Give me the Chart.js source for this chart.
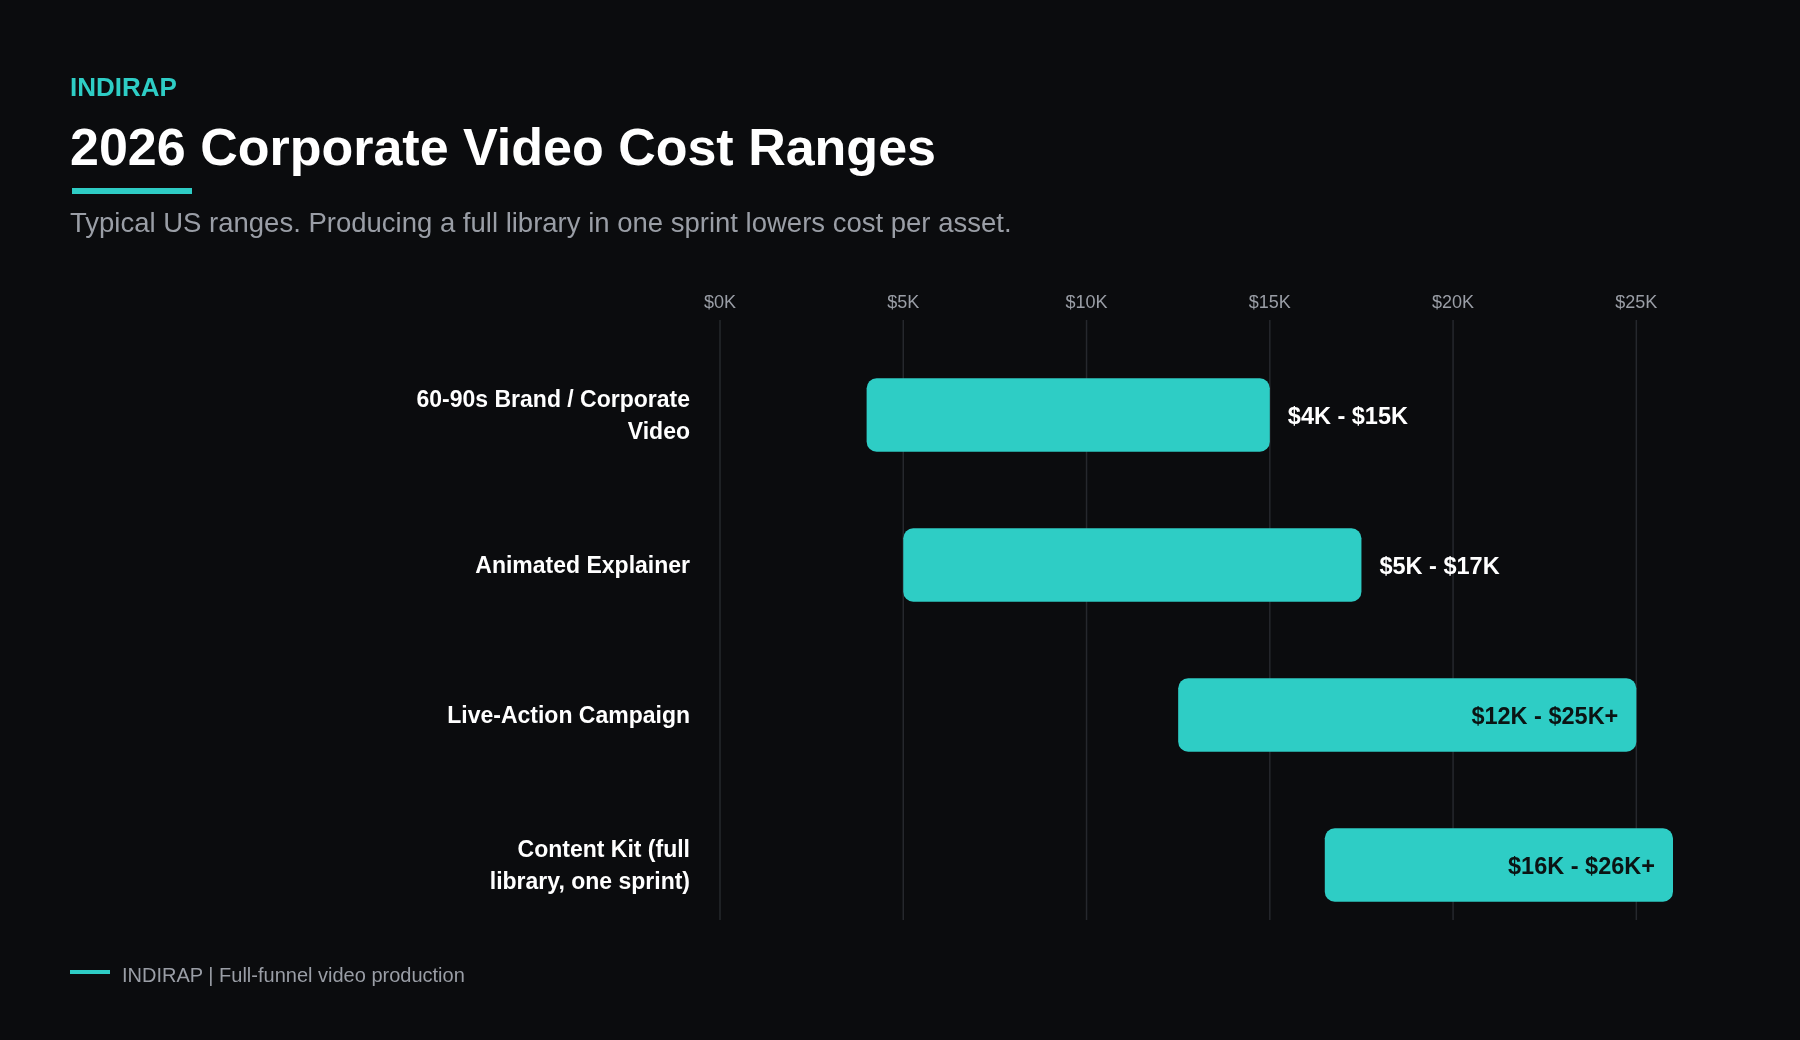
<!DOCTYPE html>
<html>
<head>
<meta charset="utf-8">
<script src="https://cdn.jsdelivr.net/npm/chart.js@4.4.1/dist/chart.umd.min.js"></script>
<style>
  html, body { margin: 0; padding: 0; background: #0b0c0e; }
  body { width: 1800px; height: 1040px; position: relative; overflow: hidden; font-family: "Liberation Sans", Arial, sans-serif; }
  #chart { position: absolute; left: 0; top: 0; }
  .t { position: absolute; white-space: nowrap; line-height: 1; }
  #brand { left: 70px; top: 74px; font-size: 26px; font-weight: bold; color: #2ecdc5; }
  #title { left: 70px; top: 121px; font-size: 52px; font-weight: bold; color: #ffffff; }
  #rule { position: absolute; left: 72px; top: 188px; width: 120px; height: 6px; background: #2ecdc5; }
  #sub { left: 70px; top: 209px; font-size: 27.5px; color: #9a9ea6; }
  #fline { position: absolute; left: 70px; top: 970px; width: 40px; height: 4px; background: #2ecdc5; }
  #foot { left: 122px; top: 965px; font-size: 20px; color: #9a9ea6; }
</style>
</head>
<body>
<canvas id="chart" width="1800" height="1040"></canvas>
<div class="t" id="brand">INDIRAP</div>
<div class="t" id="title">2026 Corporate Video Cost Ranges</div>
<div id="rule"></div>
<div class="t" id="sub">Typical US ranges. Producing a full library in one sprint lowers cost per asset.</div>
<div id="fline"></div>
<div class="t" id="foot">INDIRAP | Full-funnel video production</div>
<script>
// ---- data ----
const categories = [
  ["60-90s Brand / Corporate", "Video"],
  "Animated Explainer",
  "Live-Action Campaign",
  ["Content Kit (full", "library, one sprint)"]
];
const lowValues = [4, 5, 12.5, 16.5];      // $K
const highValues = [15, 17.5, 25, 26];     // $K
const rangeLabels = ["$4K - $15K", "$5K - $17K", "$12K - $25K+", "$16K - $26K+"];
const xTickValues = [0, 5, 10, 15, 20, 25];
const xMin = 0, xMax = 26;

// ---- styles ----
const TEAL = "#2ecdc5";
const GRID = "#26282d";
const MUTED = "#9a9ea6";
const FONT = "'Liberation Sans', Arial, sans-serif";

const gridPlugin = {
  id: "gridLines",
  beforeDatasetsDraw(chart) {
    const { ctx, chartArea, scales } = chart;
    const x = scales.x;
    ctx.save();
    ctx.strokeStyle = GRID;
    ctx.lineWidth = 1.5;
    x.ticks.forEach(t => {
      const px = x.getPixelForValue(t.value);
      ctx.beginPath();
      ctx.moveTo(px, chartArea.top - 20);
      ctx.lineTo(px, chartArea.bottom - 20);
      ctx.stroke();
    });
    ctx.restore();
  }
};

const labelPlugin = {
  id: "rangeLabels",
  afterDatasetsDraw(chart) {
    const { ctx } = chart;
    const meta = chart.getDatasetMeta(0);
    ctx.save();
    ctx.font = "bold 23.5px " + FONT;
    ctx.textBaseline = "middle";
    meta.data.forEach((bar, i) => {
      const txt = rangeLabels[i];
      const w = ctx.measureText(txt).width;
      const end = bar.x;
      if (end + 18 + w <= chart.width - 10) {
        ctx.fillStyle = "#ffffff";
        ctx.textAlign = "left";
        ctx.fillText(txt, end + 18, bar.y + 3);
      } else {
        ctx.fillStyle = "#0b1414";
        ctx.textAlign = "right";
        ctx.fillText(txt, end - 18, bar.y + 3);
      }
    });
    ctx.restore();
  }
};

new Chart(document.getElementById("chart"), {
  type: "bar",
  data: {
    labels: categories,
    datasets: [{
      data: lowValues.map((l, i) => [l, highValues[i]]),
      backgroundColor: TEAL,
      borderRadius: 10,
      borderSkipped: false,
      categoryPercentage: 1,
      barPercentage: 0.49
    }]
  },
  options: {
    indexAxis: "y",
    responsive: false,
    devicePixelRatio: 1,
    animation: false,
    layout: { padding: { top: 250, right: 127, bottom: 100, left: 0 } },
    plugins: { legend: { display: false }, tooltip: { enabled: false } },
    scales: {
      x: {
        position: "top",
        min: xMin,
        max: xMax,
        afterBuildTicks: s => { s.ticks = xTickValues.map(v => ({ value: v })); },
        afterFit: s => { s.height = 90; },
        grid: { display: false, drawTicks: false },
        border: { display: false },
        ticks: {
          padding: 26,
          color: MUTED,
          font: { family: FONT, size: 18 },
          callback: v => "$" + v + "K"
        }
      },
      y: {
        afterFit: s => { s.width = 720; },
        grid: { display: false, drawTicks: false },
        border: { display: false },
        ticks: {
          padding: 30,
          labelOffset: 2,
          color: "#ffffff",
          font: { family: FONT, size: 23, weight: "bold", lineHeight: 1.38 }
        }
      }
    }
  },
  plugins: [gridPlugin, labelPlugin]
});
</script>
</body>
</html>
